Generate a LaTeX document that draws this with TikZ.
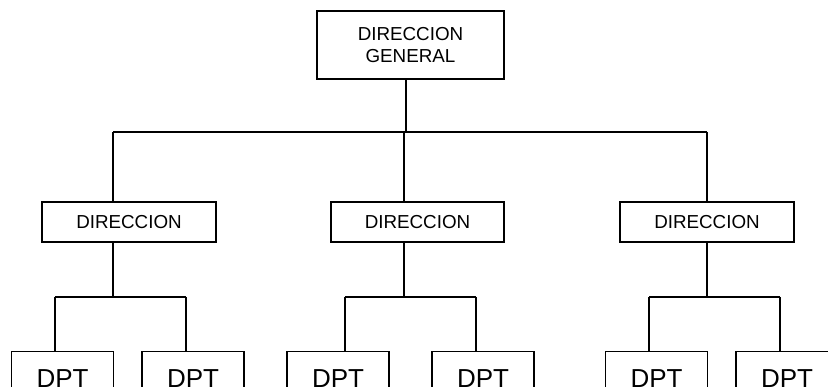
\documentclass[tikz,border=0pt]{standalone}
\usepackage{fontspec}
\setmainfont{Liberation Sans}
\begin{document}
\begin{tikzpicture}[x=1pt, y=-1pt, line width=1.5pt,
  orgbox/.style={draw, line width=1.5pt, inner sep=0pt, align=center,
    font=\fontsize{18.8}{22.6}\selectfont},
  dptbox/.style={draw, line width=1.5pt, anchor=north, inner xsep=0pt,
    inner ysep=17pt, minimum width=102pt, text height=18.6pt, text depth=30pt,
    font=\fontsize{26}{30}\selectfont},
  link/.style={draw, line width=1.5pt}]
  % page frame, the lowest row runs off the bottom edge
  \useasboundingbox (0,0) rectangle (828,387);
  \clip (0,0) rectangle (828,387);

  % general management
  \node[orgbox, minimum width=187pt, minimum height=68pt] (gen) at (410.5,45) {DIRECCION\\GENERAL};

  % directorates
  \node[orgbox, minimum width=174pt, minimum height=40pt] (dirL) at (129,222) {DIRECCION};
  \node[orgbox, minimum width=173pt, minimum height=40pt] (dirM) at (417.5,222) {DIRECCION};
  \node[orgbox, minimum width=174pt, minimum height=40pt] (dirR) at (707,222) {DIRECCION};

  % departments
  \node[dptbox] (d1) at (62.5,351) {DPT};
  \node[dptbox] (d2) at (193,351) {DPT};
  \node[dptbox] (d3) at (338,351) {DPT};
  \node[dptbox] (d4) at (483,351) {DPT};
  \node[dptbox] (d5) at (656.5,351) {DPT};
  \node[dptbox] (d6) at (787,351) {DPT};

  % branch points of the tree
  \coordinate (t0) at (406,132);
  \coordinate (tL) at (113,132);
  \coordinate (tM) at (404,132);
  \coordinate (tR) at (707,132);

  \coordinate (lL) at (113,297);
  \coordinate (lL1) at (55,297);
  \coordinate (lL2) at (186,297);
  \coordinate (lM) at (404,297);
  \coordinate (lM1) at (345,297);
  \coordinate (lM2) at (476,297);
  \coordinate (lR) at (707,297);
  \coordinate (lR1) at (649,297);
  \coordinate (lR2) at (780,297);

  % top level connectors
  \path[link] (gen.south -| t0) -- (t0);
  \path[link] (tL) -- (tR);
  \path[link] (tL) -- (dirL.north -| tL);
  \path[link] (tM) -- (dirM.north -| tM);
  \path[link] (tR) -- (dirR.north -| tR);

  % department connectors
  \path[link] (dirL.south -| lL) -- (lL);
  \path[link] (lL1) -- (lL2);
  \path[link] (lL1) -- (d1.north -| lL1);
  \path[link] (lL2) -- (d2.north -| lL2);

  \path[link] (dirM.south -| lM) -- (lM);
  \path[link] (lM1) -- (lM2);
  \path[link] (lM1) -- (d3.north -| lM1);
  \path[link] (lM2) -- (d4.north -| lM2);

  \path[link] (dirR.south -| lR) -- (lR);
  \path[link] (lR1) -- (lR2);
  \path[link] (lR1) -- (d5.north -| lR1);
  \path[link] (lR2) -- (d6.north -| lR2);
\end{tikzpicture}
\end{document}
